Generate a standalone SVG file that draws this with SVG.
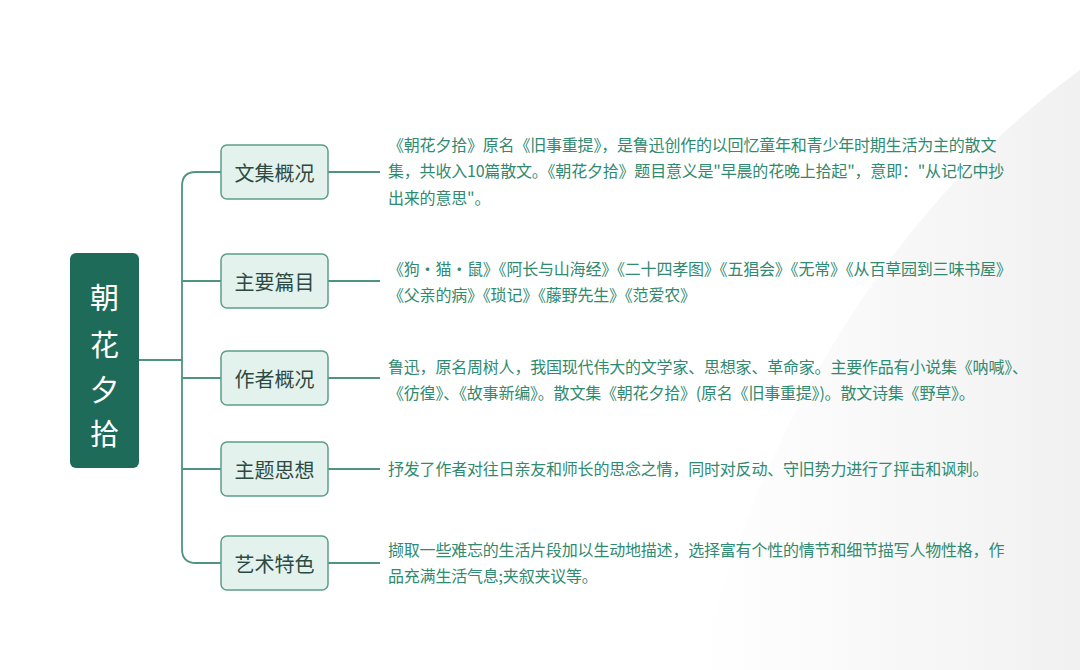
<svg xmlns="http://www.w3.org/2000/svg" width="1080" height="670" viewBox="0 0 1080 670">
<defs>
<linearGradient id="bg" x1="0" y1="0" x2="1" y2="0">
<stop offset="0" stop-color="#ffffff"/><stop offset="1" stop-color="#f1f1f1"/>
</linearGradient>
<style>
.box{fill:#e4f2ed;stroke:#5c9e8a;stroke-width:1.5}
.bt{font-family:"Noto Sans CJK SC",sans-serif;font-size:20px;fill:#2d4a42;text-anchor:middle;dominant-baseline:central}
.tx{font-family:"Noto Sans CJK SC",sans-serif;font-size:16px;letter-spacing:-0.2px;fill:#2f8a70}
.rt{font-family:"Noto Sans CJK SC",sans-serif;font-size:29px;fill:#ffffff;text-anchor:middle;dominant-baseline:central}
.ln{fill:none;stroke:#4f9480;stroke-width:1.8}
</style>
</defs>
<rect width="1080" height="670" fill="#ffffff"/>
<path d="M1080 70 C900 200 760 420 700 670 L1080 670 Z" fill="url(#bg)"/>
<g id="connectors">
<path class="ln" d="M139 360 H182"/>
<path class="ln" d="M221 172 H196 Q182 172 182 186 V549 Q182 563 196 563 H221"/>
<path class="ln" d="M182 281 H221 M182 378 H221 M182 469 H221"/>
<path class="ln" d="M328 172 H380 M328 281 H380 M328 378 H380 M328 469 H380 M328 563 H380"/>
</g>
<g id="root">
<rect x="70" y="253" width="69" height="215" rx="6" fill="#1f6b5a"/>
<text class="rt" x="104.5" y="296">朝</text>
<text class="rt" x="104.5" y="343">花</text>
<text class="rt" x="104.5" y="388">夕</text>
<text class="rt" x="104.5" y="432">拾</text>
</g>
<g id="n1"><rect class="box" x="221" y="145" width="107" height="54" rx="6"/><text class="bt" x="274.5" y="172">文集概况</text>
<text class="tx" x="388" y="151">《朝花夕拾》原名《旧事重提》，是鲁迅创作的以回忆童年和青少年时期生活为主的散文</text>
<text class="tx" x="388" y="177">集，共收入10篇散文。《朝花夕拾》题目意义是"早晨的花晚上拾起"，意即："从记忆中抄</text>
<text class="tx" x="388" y="204">出来的意思"。</text></g>
<g id="n2"><rect class="box" x="221" y="254" width="107" height="54" rx="6"/><text class="bt" x="274.5" y="281">主要篇目</text>
<text class="tx" x="388" y="275">《狗·猫·鼠》《阿长与山海经》《二十四孝图》《五猖会》《无常》《从百草园到三味书屋》</text>
<text class="tx" x="388" y="301">《父亲的病》《琐记》《藤野先生》《范爱农》</text></g>
<g id="n3"><rect class="box" x="221" y="351" width="107" height="54" rx="6"/><text class="bt" x="274.5" y="378">作者概况</text>
<text class="tx" x="388" y="373">鲁迅，原名周树人，我国现代伟大的文学家、思想家、革命家。主要作品有小说集《呐喊》、</text>
<text class="tx" x="388" y="399">《彷徨》、《故事新编》。散文集《朝花夕拾》(原名《旧事重提》)。散文诗集《野草》。</text></g>
<g id="n4"><rect class="box" x="221" y="442" width="107" height="54" rx="6"/><text class="bt" x="274.5" y="469">主题思想</text>
<text class="tx" x="388" y="475">抒发了作者对往日亲友和师长的思念之情，同时对反动、守旧势力进行了抨击和讽刺。</text></g>
<g id="n5"><rect class="box" x="221" y="536" width="107" height="54" rx="6"/><text class="bt" x="274.5" y="563">艺术特色</text>
<text class="tx" x="388" y="556">撷取一些难忘的生活片段加以生动地描述，选择富有个性的情节和细节描写人物性格，作</text>
<text class="tx" x="388" y="582">品充满生活气息;夹叙夹议等。</text></g>
</svg>
